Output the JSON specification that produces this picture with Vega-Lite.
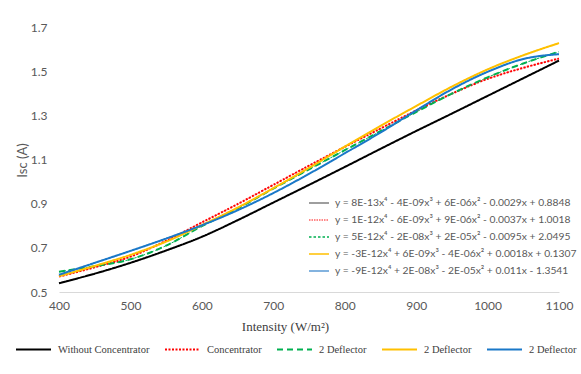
{
  "$schema": "https://vega.github.io/schema/vega-lite/v6.json",
  "width": 500,
  "height": 265,
  "autosize": "none",
  "padding": {"left": 59, "top": 27, "right": 22, "bottom": 82},
  "background": "white",
  "config": {"view": {"stroke": null}, "font": "Lato"},
  "datasets": {
    "eqs": [
      {"s": "Without Concentrator", "eq": "y = 8E-13x⁴ - 4E-09x³ + 6E-06x² - 0.0029x + 0.8848"},
      {"s": "Concentrator", "eq": "y = 1E-12x⁴ - 6E-09x³ + 9E-06x² - 0.0037x + 1.0018"},
      {"s": "2 Deflector#1", "eq": "y = 5E-12x⁴ - 2E-08x³ + 2E-05x² - 0.0095x + 2.0495"},
      {"s": "2 Deflector#2", "eq": "y = -3E-12x⁴ + 6E-09x³ - 4E-06x² + 0.0018x + 0.1307"},
      {"s": "2 Deflector#3", "eq": "y = -9E-12x⁴ + 2E-08x³ - 2E-05x² + 0.011x - 1.3541"}
    ],
    "pts": [
      {"s": "Without Concentrator", "x": 400, "y": 0.540},
      {"s": "Without Concentrator", "x": 450, "y": 0.583},
      {"s": "Without Concentrator", "x": 500, "y": 0.632},
      {"s": "Without Concentrator", "x": 550, "y": 0.688},
      {"s": "Without Concentrator", "x": 600, "y": 0.750},
      {"s": "Without Concentrator", "x": 650, "y": 0.825},
      {"s": "Without Concentrator", "x": 700, "y": 0.905},
      {"s": "Without Concentrator", "x": 750, "y": 0.985},
      {"s": "Without Concentrator", "x": 800, "y": 1.066},
      {"s": "Without Concentrator", "x": 850, "y": 1.148},
      {"s": "Without Concentrator", "x": 900, "y": 1.229},
      {"s": "Without Concentrator", "x": 950, "y": 1.308},
      {"s": "Without Concentrator", "x": 1000, "y": 1.388},
      {"s": "Without Concentrator", "x": 1050, "y": 1.468},
      {"s": "Without Concentrator", "x": 1100, "y": 1.548},
      {"s": "Concentrator", "x": 400, "y": 0.570},
      {"s": "Concentrator", "x": 450, "y": 0.612},
      {"s": "Concentrator", "x": 500, "y": 0.660},
      {"s": "Concentrator", "x": 550, "y": 0.732},
      {"s": "Concentrator", "x": 600, "y": 0.815},
      {"s": "Concentrator", "x": 650, "y": 0.898},
      {"s": "Concentrator", "x": 700, "y": 0.985},
      {"s": "Concentrator", "x": 750, "y": 1.072},
      {"s": "Concentrator", "x": 800, "y": 1.157},
      {"s": "Concentrator", "x": 850, "y": 1.240},
      {"s": "Concentrator", "x": 900, "y": 1.322},
      {"s": "Concentrator", "x": 950, "y": 1.398},
      {"s": "Concentrator", "x": 1000, "y": 1.465},
      {"s": "Concentrator", "x": 1050, "y": 1.515},
      {"s": "Concentrator", "x": 1100, "y": 1.557},
      {"s": "2 Deflector#1", "x": 400, "y": 0.592},
      {"s": "2 Deflector#1", "x": 450, "y": 0.617},
      {"s": "2 Deflector#1", "x": 500, "y": 0.648},
      {"s": "2 Deflector#1", "x": 550, "y": 0.710},
      {"s": "2 Deflector#1", "x": 600, "y": 0.798},
      {"s": "2 Deflector#1", "x": 650, "y": 0.878},
      {"s": "2 Deflector#1", "x": 700, "y": 0.968},
      {"s": "2 Deflector#1", "x": 750, "y": 1.055},
      {"s": "2 Deflector#1", "x": 800, "y": 1.142},
      {"s": "2 Deflector#1", "x": 850, "y": 1.228},
      {"s": "2 Deflector#1", "x": 900, "y": 1.315},
      {"s": "2 Deflector#1", "x": 950, "y": 1.398},
      {"s": "2 Deflector#1", "x": 1000, "y": 1.472},
      {"s": "2 Deflector#1", "x": 1050, "y": 1.535},
      {"s": "2 Deflector#1", "x": 1100, "y": 1.588},
      {"s": "2 Deflector#2", "x": 400, "y": 0.572},
      {"s": "2 Deflector#2", "x": 450, "y": 0.618},
      {"s": "2 Deflector#2", "x": 500, "y": 0.668},
      {"s": "2 Deflector#2", "x": 550, "y": 0.728},
      {"s": "2 Deflector#2", "x": 600, "y": 0.803},
      {"s": "2 Deflector#2", "x": 650, "y": 0.882},
      {"s": "2 Deflector#2", "x": 700, "y": 0.970},
      {"s": "2 Deflector#2", "x": 750, "y": 1.062},
      {"s": "2 Deflector#2", "x": 800, "y": 1.158},
      {"s": "2 Deflector#2", "x": 850, "y": 1.252},
      {"s": "2 Deflector#2", "x": 900, "y": 1.342},
      {"s": "2 Deflector#2", "x": 950, "y": 1.430},
      {"s": "2 Deflector#2", "x": 1000, "y": 1.508},
      {"s": "2 Deflector#2", "x": 1050, "y": 1.572},
      {"s": "2 Deflector#2", "x": 1100, "y": 1.627},
      {"s": "2 Deflector#3", "x": 400, "y": 0.578},
      {"s": "2 Deflector#3", "x": 450, "y": 0.632},
      {"s": "2 Deflector#3", "x": 500, "y": 0.686},
      {"s": "2 Deflector#3", "x": 550, "y": 0.742},
      {"s": "2 Deflector#3", "x": 600, "y": 0.802},
      {"s": "2 Deflector#3", "x": 650, "y": 0.870},
      {"s": "2 Deflector#3", "x": 700, "y": 0.948},
      {"s": "2 Deflector#3", "x": 750, "y": 1.035},
      {"s": "2 Deflector#3", "x": 800, "y": 1.128},
      {"s": "2 Deflector#3", "x": 850, "y": 1.222},
      {"s": "2 Deflector#3", "x": 900, "y": 1.322},
      {"s": "2 Deflector#3", "x": 950, "y": 1.418},
      {"s": "2 Deflector#3", "x": 1000, "y": 1.497},
      {"s": "2 Deflector#3", "x": 1050, "y": 1.555},
      {"s": "2 Deflector#3", "x": 1100, "y": 1.577}
    ]
  },
  "data": {"name": "pts"},
  "transform": [
    {"lookup": "s", "from": {"data": {"name": "eqs"}, "key": "s", "fields": ["eq"]}}
  ],
  "encoding": {
    "x": {
      "field": "x", "type": "quantitative",
      "scale": {"domain": [400, 1100], "nice": false, "zero": false},
      "axis": {
        "values": [400, 500, 600, 700, 800, 900, 1000, 1100],
        "format": "d", "labelFlush": false, "labelOverlap": false,
        "title": "Intensity (W/m²)",
        "grid": false, "ticks": false, "tickSize": 0,
        "domainColor": "#d9d9d9", "domainWidth": 1,
        "labelColor": "#595959", "labelFont": "Lato", "labelFontSize": 12,
        "labelPadding": 8,
        "titleFont": "Liberation Serif, Times New Roman, serif", "titleFontSize": 13, "titleFontWeight": "normal",
        "titleColor": "#404040", "titleX": 226, "titleY": 34, "titleBaseline": "middle"
      }
    },
    "y": {
      "field": "y", "type": "quantitative",
      "scale": {"domain": [0.5, 1.7], "nice": false, "zero": false},
      "axis": {
        "values": [0.5, 0.7, 0.9, 1.1, 1.3, 1.5, 1.7],
        "format": ".1f", "labelFlush": false, "labelOverlap": false,
        "title": "Isc (A)",
        "grid": false, "ticks": false, "tickSize": 0, "domain": false,
        "labelColor": "#595959", "labelFont": "Lato", "labelFontSize": 12,
        "labelPadding": 12,
        "titleFont": "Lato", "titleFontSize": 13, "titleFontWeight": "normal",
        "titleColor": "#595959", "titleX": -37, "titleY": 133,
        "titleAngle": -90, "titleAlign": "center", "titleBaseline": "middle"
      }
    }
  },
  "layer": [
    {
      "mark": {"type": "line", "strokeWidth": 1, "interpolate": "monotone"},
      "encoding": {
        "stroke": {
          "field": "eq", "type": "nominal",
          "scale": {
            "domain": [
              "y = 8E-13x⁴ - 4E-09x³ + 6E-06x² - 0.0029x + 0.8848",
              "y = 1E-12x⁴ - 6E-09x³ + 9E-06x² - 0.0037x + 1.0018",
              "y = 5E-12x⁴ - 2E-08x³ + 2E-05x² - 0.0095x + 2.0495",
              "y = -3E-12x⁴ + 6E-09x³ - 4E-06x² + 0.0018x + 0.1307",
              "y = -9E-12x⁴ + 2E-08x³ - 2E-05x² + 0.011x - 1.3541"
            ],
            "range": ["#7f7f7f", "#ff6060", "#00b050", "#ffc000", "#5b9bd5"]
          },
          "legend": {
            "title": null, "orient": "none", "legendX": 249, "legendY": 165,
            "direction": "vertical", "padding": 0,
            "symbolSize": 400, "symbolStrokeWidth": 1.5, "symbolType": "stroke",
            "labelFont": "Lato", "labelFontSize": 10.3, "labelColor": "#595959",
            "labelLimit": 400, "labelOffset": 5, "rowPadding": -1.15
          }
        },
        "strokeDash": {
          "field": "eq", "type": "nominal",
          "scale": {
            "domain": [
              "y = 8E-13x⁴ - 4E-09x³ + 6E-06x² - 0.0029x + 0.8848",
              "y = 1E-12x⁴ - 6E-09x³ + 9E-06x² - 0.0037x + 1.0018",
              "y = 5E-12x⁴ - 2E-08x³ + 2E-05x² - 0.0095x + 2.0495",
              "y = -3E-12x⁴ + 6E-09x³ - 4E-06x² + 0.0018x + 0.1307",
              "y = -9E-12x⁴ + 2E-08x³ - 2E-05x² + 0.011x - 1.3541"
            ],
            "range": [[1, 0], [1.5, 1], [2.5, 2], [1, 0], [1, 0]]
          },
          "legend": {
            "title": null, "orient": "none", "legendX": 249, "legendY": 165,
            "direction": "vertical", "padding": 0,
            "symbolSize": 400, "symbolStrokeWidth": 1.5, "symbolType": "stroke",
            "labelFont": "Lato", "labelFontSize": 10.3, "labelColor": "#595959",
            "labelLimit": 400, "labelOffset": 5, "rowPadding": -1.15
          }
        }
      }
    },
    {
      "mark": {"type": "line", "strokeWidth": 2, "interpolate": "monotone"},
      "encoding": {
        "color": {
          "field": "s", "type": "nominal",
          "scale": {
            "domain": ["Without Concentrator", "Concentrator", "2 Deflector#1", "2 Deflector#2", "2 Deflector#3"],
            "range": ["#000000", "#ff0000", "#00b050", "#ffc000", "#1a78c8"]
          },
          "legend": {
            "title": null, "orient": "none", "legendX": -44, "legendY": 304,
            "direction": "horizontal", "columns": 5, "padding": 0,
            "symbolSize": 1225, "symbolStrokeWidth": 2, "symbolType": "stroke",
            "labelFont": "Liberation Serif, Times New Roman, serif", "labelFontSize": 10.5, "labelColor": "#404040",
            "labelExpr": "split(datum.label, '#')[0]",
            "labelLimit": 300, "labelOffset": 6, "columnPadding": 11
          }
        },
        "strokeDash": {
          "field": "s", "type": "nominal",
          "scale": {
            "domain": ["Without Concentrator", "Concentrator", "2 Deflector#1", "2 Deflector#2", "2 Deflector#3"],
            "range": [[1, 0], [2, 1.5], [6, 4], [1, 0], [1, 0]]
          },
          "legend": {
            "title": null, "orient": "none", "legendX": -44, "legendY": 304,
            "direction": "horizontal", "columns": 5, "padding": 0,
            "symbolSize": 1225, "symbolStrokeWidth": 2, "symbolType": "stroke",
            "labelFont": "Liberation Serif, Times New Roman, serif", "labelFontSize": 10.5, "labelColor": "#404040",
            "labelExpr": "split(datum.label, '#')[0]",
            "labelLimit": 300, "labelOffset": 6, "columnPadding": 11
          }
        }
      }
    }
  ],
  "resolve": {"scale": {"color": "independent", "stroke": "independent", "strokeDash": "independent"}}
}
